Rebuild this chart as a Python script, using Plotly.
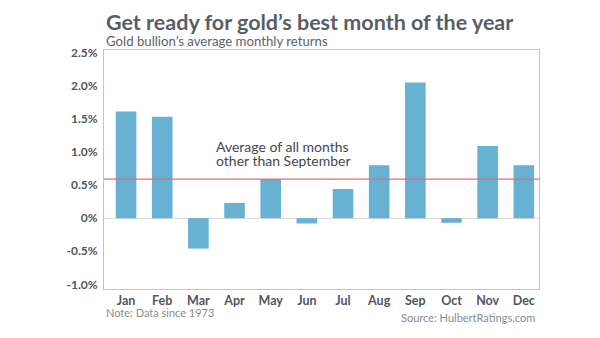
import plotly.graph_objects as go

# Gold bullion's average monthly returns (%), data since 1973
months = ["Jan", "Feb", "Mar", "Apr", "May", "Jun",
          "Jul", "Aug", "Sep", "Oct", "Nov", "Dec"]
avg_returns = [1.61, 1.53, -0.46, 0.23, 0.59, -0.08,
               0.44, 0.80, 2.05, -0.07, 1.09, 0.80]
avg_other_than_sep = 0.59

y_tick_vals = [2.5, 2.0, 1.5, 1.0, 0.5, 0, -0.5, -1.0]
y_tick_text = ["2.5%", "2.0%", "1.5%", "1.0%", "0.5%", "0%", "-0.5%", "-1.0%"]

FONT = "Lato"
TEXT_DARK = "#50565c"

fig = go.Figure(
    go.Bar(
        x=list(range(len(months))),
        y=avg_returns,
        marker=dict(color="#67b1d2", line=dict(width=0)),
        width=0.57,
        hoverinfo="skip",
    )
)

# Reference line for the average of the other eleven months
fig.add_shape(
    type="line", xref="paper", x0=0, x1=1,
    yref="y", y0=avg_other_than_sep, y1=avg_other_than_sep,
    line=dict(color="#e2706a", width=1.2), layer="above",
)

fig.update_layout(
    width=600, height=338,
    margin=dict(l=104, r=61, t=50, b=49),
    paper_bgcolor="white", plot_bgcolor="white",
    showlegend=False,
    font=dict(family=FONT, color=TEXT_DARK),
    xaxis=dict(
        range=[-0.61, 11.42],
        tickvals=list(range(len(months))),
        ticktext=months,
        tickfont=dict(family=FONT, size=12.5, color=TEXT_DARK, weight="bold"),
        showgrid=False, zeroline=False, ticks="",
        showline=True, linecolor="#c2c2c2", linewidth=1, mirror=True,
        ticklabelstandoff=0,
    ),
    yaxis=dict(
        range=[-1.07, 2.54],
        tickvals=y_tick_vals,
        ticktext=y_tick_text,
        tickfont=dict(family=FONT, size=12, color=TEXT_DARK, weight="bold"),
        showgrid=False, ticks="",
        zeroline=True, zerolinecolor="#dcdcdc", zerolinewidth=1,
        showline=True, linecolor="#c2c2c2", linewidth=1, mirror=True,
        ticklabelstandoff=3,
    ),
    annotations=[
        dict(text="<b>Get ready for gold\u2019s best month of the year</b>",
             xref="paper", yref="paper", x=0.0, y=1.0, yanchor="middle",
             yshift=28, xanchor="left", showarrow=False,
             font=dict(family=FONT, size=21.5, color="#585e66")),
        dict(text="Gold bullion\u2019s average monthly returns",
             xref="paper", yref="paper", x=0.0, y=1.0, yanchor="middle",
             yshift=9, xanchor="left", showarrow=False,
             font=dict(family=FONT, size=13.2, color="#5c6168")),
        dict(text="Average of all months",
             xref="x", yref="y", x=2.43, y=1.075, xanchor="left", yanchor="middle",
             showarrow=False,
             font=dict(family=FONT, size=14, color="#44484d")),
        dict(text="other than September",
             xref="x", yref="y", x=2.43, y=0.87, xanchor="left", yanchor="middle",
             showarrow=False,
             font=dict(family=FONT, size=14, color="#44484d")),
        dict(text="Note: Data since 1973",
             xref="paper", yref="paper", x=0.0, y=0, yanchor="middle",
             yshift=-23, xanchor="left", showarrow=False,
             font=dict(family=FONT, size=11, color="#8a8d91")),
        dict(text="Source: HulbertRatings.com",
             xref="paper", yref="paper", x=0.995, y=0, yanchor="middle",
             yshift=-28, xanchor="right", showarrow=False,
             font=dict(family=FONT, size=11, color="#8a8d91")),
    ],
)

fig.write_html("out.html")
